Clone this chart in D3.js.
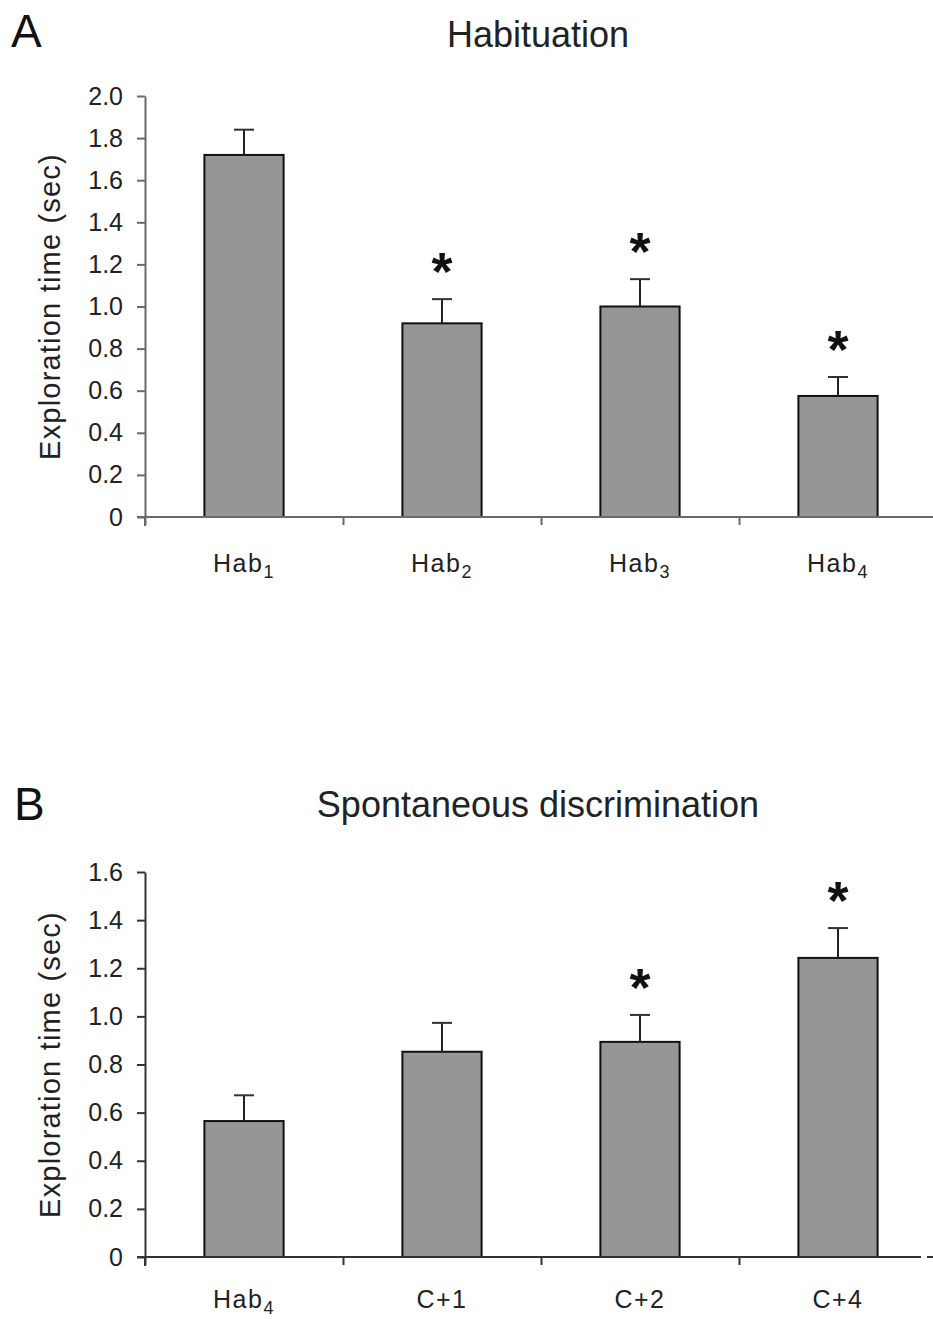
<!DOCTYPE html>
<html>
<head>
<meta charset="utf-8">
<script src="https://cdn.jsdelivr.net/npm/d3@7"></script>
<style>
  body { margin: 0; background: #fff; }
  svg { display: block; font-family: "Liberation Sans", Arial, sans-serif; }
</style>
</head>
<body>
<svg width="933" height="1319"></svg>
<script>
// panel A - habituation
const habCategories = ['Hab1', 'Hab2', 'Hab3', 'Hab4'];
const habMeans = [1.72, 0.92, 1.0, 0.575];
const habErrors = [0.12, 0.115, 0.13, 0.09];
const habStars = [false, true, true, true];
const habTicks = [0, 0.2, 0.4, 0.6, 0.8, 1.0, 1.2, 1.4, 1.6, 1.8, 2.0];

// panel B - spontaneous discrimination
const discCategories = ['Hab4', 'C+1', 'C+2', 'C+4'];
const discMeans = [0.565, 0.853, 0.894, 1.243];
const discErrors = [0.107, 0.12, 0.112, 0.124];
const discStars = [false, false, true, true];
const discTicks = [0, 0.2, 0.4, 0.6, 0.8, 1.0, 1.2, 1.4, 1.6];

const svg = d3.select('svg');
const width = +svg.attr('width');
const left = 145;
const step = 198;

function drawPanel(p) {
  const n = p.categories.length;
  const right = left + step * n;
  const g = svg.append('g');

  const x = d3.scaleBand()
    .domain(p.categories)
    .range([left, right])
    .paddingInner(0.6)
    .paddingOuter(0.3);

  const y = d3.scaleLinear()
    .domain([0, p.ticks[p.ticks.length - 1]])
    .range([p.bottom, p.top]);

  // panel letter + title
  g.append('text')
    .attr('x', p.letterX)
    .attr('y', p.letterY)
    .attr('font-size', 46)
    .attr('fill', '#111')
    .text(p.letter);

  g.append('text')
    .attr('x', 538)
    .attr('y', p.titleY)
    .attr('text-anchor', 'middle')
    .attr('font-size', 36)
    .attr('fill', '#222')
    .text(p.title);

  // y axis
  const yAxis = g.append('g')
    .attr('transform', `translate(${left},0)`)
    .call(d3.axisLeft(y)
      .tickValues(p.ticks)
      .tickSize(8)
      .tickSizeOuter(0)
      .tickPadding(14)
      .tickFormat(d => d === 0 ? '0' : d3.format('.1f')(d)));
  yAxis.select('.domain').attr('stroke', p.axisColor).attr('stroke-width', 2);
  yAxis.selectAll('.tick line').attr('stroke', p.axisColor).attr('stroke-width', 2);
  yAxis.selectAll('.tick text')
    .attr('font-size', 25)
    .attr('font-family', '"Liberation Sans", Arial, sans-serif')
    .attr('fill', '#222');

  // y axis dips a bit below zero
  g.append('line')
    .attr('x1', left).attr('x2', left)
    .attr('y1', p.bottom).attr('y2', p.bottom + 9)
    .attr('stroke', p.axisColor).attr('stroke-width', 2);

  g.append('text')
    .attr('transform', `translate(60,${(p.top + p.bottom) / 2}) rotate(-90)`)
    .attr('text-anchor', 'middle')
    .attr('font-size', 29)
    .attr('letter-spacing', 1.2)
    .attr('fill', '#222')
    .text('Exploration time (sec)');

  // bars
  g.selectAll('rect.bar')
    .data(p.means)
    .enter()
    .append('rect')
    .attr('class', 'bar')
    .attr('x', (d, i) => x(p.categories[i]))
    .attr('y', d => y(d))
    .attr('width', x.bandwidth())
    .attr('height', d => y(0) - y(d))
    .attr('fill', '#969696')
    .attr('stroke', '#111')
    .attr('stroke-width', 2);

  // error bars (upper only)
  const err = g.selectAll('g.err')
    .data(p.means)
    .enter()
    .append('g')
    .attr('class', 'err')
    .attr('transform', (d, i) => `translate(${x(p.categories[i]) + x.bandwidth() / 2},0)`);

  err.append('line')
    .attr('y1', d => y(d))
    .attr('y2', (d, i) => y(d + p.errors[i]))
    .attr('stroke', '#222')
    .attr('stroke-width', 2);

  err.append('line')
    .attr('x1', -10).attr('x2', 10)
    .attr('y1', (d, i) => y(d + p.errors[i]))
    .attr('y2', (d, i) => y(d + p.errors[i]))
    .attr('stroke', '#333')
    .attr('stroke-width', 2);

  // significance stars
  err.filter((d, i) => p.stars[i])
    .append('text')
    .attr('text-anchor', 'middle')
    .attr('y', d => {
      const idx = p.means.indexOf(d);
      return y(d + p.errors[idx]) - 37 + 28;
    })
    .attr('font-size', 54)
    .attr('font-weight', 'bold')
    .attr('fill', '#111')
    .text('*');

  // x axis baseline
  g.append('line')
    .attr('x1', left - 8).attr('x2', p.axisEnd)
    .attr('y1', p.bottom).attr('y2', p.bottom)
    .attr('stroke', p.axisColor)
    .attr('stroke-width', 2);
  if (p.axisEnd < width) {
    g.append('line')
      .attr('x1', p.axisEnd + 6).attr('x2', width)
      .attr('y1', p.bottom).attr('y2', p.bottom)
      .attr('stroke', p.axisColor)
      .attr('stroke-width', 2);
  }

  // category boundary ticks
  const xEdge = d3.scaleLinear().domain([0, n]).range([left, right]);
  const edges = g.append('g')
    .attr('transform', `translate(0,${p.bottom})`)
    .call(d3.axisBottom(xEdge).ticks(n).tickSize(8).tickFormat(''));
  edges.select('.domain').remove();
  edges.selectAll('.tick line').attr('stroke', p.axisColor).attr('stroke-width', 2);

  // category labels, trailing digit of "Hab" as subscript
  const labels = g.selectAll('text.cat')
    .data(p.categories)
    .enter()
    .append('text')
    .attr('class', 'cat')
    .attr('x', d => x(d) + x.bandwidth() / 2)
    .attr('y', p.bottom + p.labelOffset)
    .attr('text-anchor', 'middle')
    .attr('font-size', 25)
    .attr('letter-spacing', 1.5)
    .attr('fill', '#222');

  labels.each(function (d) {
    const t = d3.select(this);
    const m = d.match(/^(Hab)(\d)$/);
    if (m) {
      t.append('tspan').text(m[1]);
      t.append('tspan').attr('dy', 6).attr('font-size', 18).text(m[2]);
    } else {
      t.text(d);
    }
  });
}

drawPanel({
  letter: 'A', letterX: 11, letterY: 47,
  title: 'Habituation', titleY: 47,
  categories: habCategories, means: habMeans, errors: habErrors,
  stars: habStars, ticks: habTicks,
  top: 96, bottom: 517, labelOffset: 55,
  axisColor: '#6a6a6a', axisEnd: width
});

drawPanel({
  letter: 'B', letterX: 14, letterY: 820,
  title: 'Spontaneous discrimination', titleY: 817,
  categories: discCategories, means: discMeans, errors: discErrors,
  stars: discStars, ticks: discTicks,
  top: 872, bottom: 1257, labelOffset: 51,
  axisColor: '#333', axisEnd: 921
});
</script>
</body>
</html>
